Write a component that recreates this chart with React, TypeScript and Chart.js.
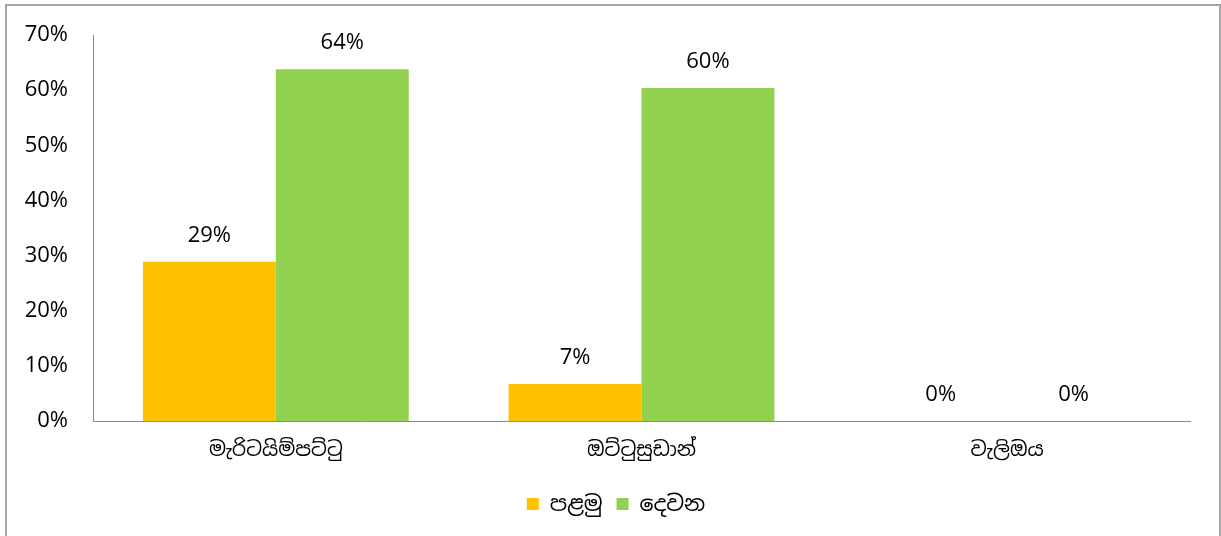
import React, { useEffect, useRef } from "react";
import { Chart, registerables } from "chart.js";

Chart.register(...registerables);

const categories = ["මැරිටයිම්පට්ටු", "ඔට්ටුසුඩාන්", "වැලිඔය"];
const seriesNames = ["පළමු", "දෙවන"];
const firstValues = [28.9, 6.7, 0];
const secondValues = [63.8, 60.4, 0];
const seriesColors = ["#FFC000", "#92D050"];
const yTicks = [0, 10, 20, 30, 40, 50, 60, 70];

const FONT = "Lato, 'Noto Sans', 'Noto Sans Sinhala', sans-serif";
const NUM_FONT = "'Open Sans', Lato, sans-serif";

const dataLabelPlugin = {
  id: "dataLabels",
  afterDatasetsDraw(chart: any) {
    const ctx = chart.ctx;
    ctx.save();
    ctx.font = `22px ${NUM_FONT}`;
    ctx.fillStyle = "#000";
    ctx.textAlign = "center";
    ctx.textBaseline = "middle";
    chart.data.datasets.forEach((ds: any, i: number) => {
      const meta = chart.getDatasetMeta(i);
      meta.data.forEach((bar: any, j: number) => {
        const v = ds.data[j];
        ctx.fillText(Math.round(v) + "%", bar.x, bar.y - 26);
      });
    });
    ctx.restore();
  },
};

const legendShiftPlugin = {
  id: "legendShift",
  afterLayout(chart: any) {
    const l = chart.legend;
    if (l) {
      l.left += 21;
      l.right += 21;
    }
  },
};

export default function App() {
  const ref = useRef<HTMLCanvasElement>(null);
  useEffect(() => {
    if (!ref.current) return;
    const chart = new Chart(ref.current, {
      type: "bar",
      data: {
        labels: categories,
        datasets: [
          {
            label: seriesNames[0],
            data: firstValues,
            backgroundColor: seriesColors[0],
            barPercentage: 1,
            categoryPercentage: 0.727,
          },
          {
            label: seriesNames[1],
            data: secondValues,
            backgroundColor: seriesColors[1],
            barPercentage: 1,
            categoryPercentage: 0.727,
          },
        ],
      },
      options: {
        animation: false,
        responsive: false,
        maintainAspectRatio: false,
        layout: { padding: { left: 0, right: 31, top: 35, bottom: 11 } },
        plugins: {
          tooltip: { enabled: false },
          legend: {
            position: "bottom",
            labels: {
              boxWidth: 12,
              boxHeight: 12,
              padding: 14,
              color: "#000",
              font: { family: FONT, size: 22 },
            },
          },
        },
        scales: {
          x: {
            grid: { display: false, drawTicks: false },
            border: { display: true, color: "#8c8c8c", width: 1 },
            ticks: {
              color: "#000",
              padding: 17,
              font: { family: FONT, size: 20 },
            },
          },
          y: {
            min: 0,
            max: 70,
            afterFit: (s: any) => {
              s.width = 93;
              s.paddingTop = 0;
              s.paddingBottom = 0;
            },
            afterBuildTicks: (s: any) => {
              s.ticks = yTicks.map((v) => ({ value: v }));
            },
            grid: { display: false, drawTicks: false },
            border: { display: true, color: "#8c8c8c", width: 1 },
            ticks: {
              color: "#000",
              padding: 25,
              font: { family: NUM_FONT, size: 22 },
              callback: (v: any) => v + "%",
            },
          },
        },
      },
      plugins: [dataLabelPlugin, legendShiftPlugin],
    });
    return () => chart.destroy();
  }, []);

  return (
    <div
      style={{
        position: "fixed",
        left: 0,
        top: 0,
        width: 1221,
        height: 536,
        background: "#fff",
        overflow: "hidden",
      }}
    >
      <div
        style={{
          position: "absolute",
          left: 5,
          top: 4,
          width: 1212,
          height: 560,
          border: "2px solid #a6a6a6",
        }}
      />
      <canvas
        ref={ref}
        width={1221}
        height={536}
        style={{ position: "absolute", left: 0, top: 0 }}
      />
    </div>
  );
}
